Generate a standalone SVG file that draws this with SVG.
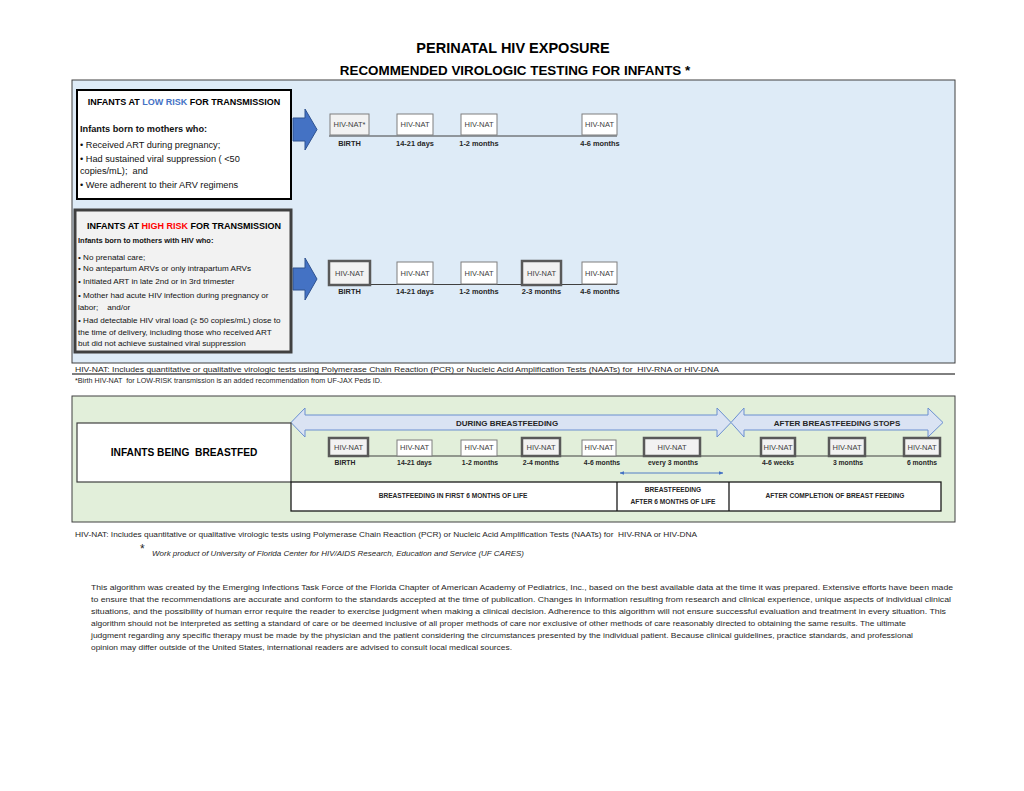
<svg xmlns="http://www.w3.org/2000/svg" width="1024" height="791" viewBox="0 0 1024 791">
<defs>
<style>
text{font-family:"Liberation Sans",Arial,sans-serif;fill:#1a1a1a}
.b{font-weight:bold}
.t1{font-size:14.5px;font-weight:bold;text-anchor:middle;fill:#000}
.t2{font-size:13.4px;font-weight:bold;text-anchor:middle;fill:#000}
.ht{font-size:9px;font-weight:bold;text-anchor:middle;fill:#000}
.lr{font-size:9.2px;fill:#111}
.hr{font-size:8.1px;fill:#111}
.bx{fill:#fff;stroke:#7f7f7f;stroke-width:1}
.bxg{fill:#f2f2f2;stroke:#7f7f7f;stroke-width:1}
.bxk{fill:#f2f2f2;stroke:#595959;stroke-width:2.5}
.nat{font-size:7.5px;text-anchor:middle;fill:#404040}
.lb{font-size:7.4px;font-weight:bold;text-anchor:middle;fill:#262626}
.tl{stroke:#404040;stroke-width:1;fill:none}
.blk{fill:#4472c4;stroke:#2f528f;stroke-width:1}
.dbl{fill:#dae3f3;stroke:#6a8fd0;stroke-width:1}
.ab{font-size:8px;font-weight:bold;text-anchor:middle;fill:#262626}
.bt{font-size:6.6px;font-weight:bold;text-anchor:middle;fill:#262626}
.fn{font-size:7.8px;fill:#262626}
.pg{font-size:7.6px;fill:#262626}
</style>
<marker id="ah" viewBox="0 0 10 10" refX="9" refY="5" markerWidth="5" markerHeight="5" orient="auto-start-reverse">
<path d="M0,1 L10,5 L0,9 Z" fill="#4472c4"/>
</marker>
</defs>
<rect width="1024" height="791" fill="#fff"/>

<g id="title">
<text class="t1" x="513" y="52.5">PERINATAL HIV EXPOSURE</text>
<text class="t2" x="515" y="75">RECOMMENDED VIROLOGIC TESTING FOR INFANTS *</text>
</g>

<g id="panel-risk">
<rect x="72" y="80" width="883" height="283" fill="#deebf7" stroke="#404040" stroke-width="1"/>
</g>

<g id="panel-breastfed">
<rect x="72" y="396" width="883" height="126" fill="#e2efda" stroke="#404040" stroke-width="1"/>
</g>

<g id="connectors">
<polygon class="blk" points="293,118 305,118 305,109 317,129.5 305,150 305,141 293,141"/>
<polygon class="blk" points="293,268 305,268 305,258 317,279 305,300 305,290 293,290"/>
<line class="tl" x1="329" y1="136" x2="617" y2="136"/>
<line class="tl" x1="329" y1="284.5" x2="617" y2="284.5"/>
<line x1="72" y1="374" x2="955" y2="374" stroke="#000" stroke-width="1"/>
<polygon class="dbl" points="291,422.5 305,408 305,415 717,415 717,408 731,422.5 717,437 717,430 305,430 305,437"/>
<polygon class="dbl" points="731,422.5 744,408 744,415 928,415 928,408 943,422.5 928,437 928,430 744,430 744,437"/>
<line class="tl" x1="329" y1="456" x2="941" y2="456"/>
<line x1="620" y1="473" x2="723" y2="473" stroke="#4472c4" stroke-width="0.9" marker-start="url(#ah)" marker-end="url(#ah)"/>
</g>

<g id="low-risk-box">
<rect x="77" y="90" width="214" height="109" fill="#fff" stroke="#000" stroke-width="2"/>
<text class="ht" x="184" y="105.3">INFANTS AT <tspan fill="#4472c4">LOW RISK</tspan> FOR TRANSMISSION</text>
<text class="lr b" x="80" y="132.2">Infants born to mothers who:</text>
<text class="lr" x="80" y="148.2">• Received ART during pregnancy;</text>
<text class="lr" x="80" y="162.2">• Had sustained viral suppression ( &lt;50</text>
<text class="lr" x="80" y="174.2">copies/mL);&#160; and</text>
<text class="lr" x="80" y="188.2">• Were adherent to their ARV regimens</text>
</g>

<g id="high-risk-box">
<rect x="75" y="210" width="216" height="142" fill="#f2f2f2" stroke="#404040" stroke-width="3"/>
<text class="ht" x="184" y="229.3">INFANTS AT <tspan fill="#ff0000">HIGH RISK</tspan> FOR TRANSMISSION</text>
<text class="hr b" x="78" y="242.7" style="font-size:7.5px">Infants born to mothers with HIV who:</text>
<text class="hr" x="78" y="259.7">• No prenatal care;</text>
<text class="hr" x="78" y="270.7">• No antepartum ARVs or only intrapartum ARVs</text>
<text class="hr" x="78" y="283.7">• Initiated ART in late 2nd or in 3rd trimester</text>
<text class="hr" x="78" y="297.7">• Mother had acute HIV infection during pregnancy or</text>
<text class="hr" x="78" y="309.7">labor;&#160;&#160;&#160; and/or</text>
<text class="hr" x="78" y="322.7">• Had detectable HIV viral load (≥ 50 copies/mL) close to</text>
<text class="hr" x="78" y="334.7">the time of delivery, including those who received ART</text>
<text class="hr" x="78" y="345.7">but did not achieve sustained viral suppression</text>
</g>

<g id="low-risk-timeline">
<rect class="bxg" x="330" y="114" width="39" height="21"/>
<text class="nat" x="349.5" y="127.2">HIV-NAT*</text>
<rect class="bx" x="397" y="114" width="36" height="21"/>
<text class="nat" x="415" y="127.2">HIV-NAT</text>
<rect class="bx" x="461" y="114" width="36" height="21"/>
<text class="nat" x="479" y="127.2">HIV-NAT</text>
<rect class="bx" x="582" y="114" width="35" height="21"/>
<text class="nat" x="599.5" y="127.2">HIV-NAT</text>
<text class="lb" x="349.5" y="146">BIRTH</text>
<text class="lb" x="415" y="146">14-21 days</text>
<text class="lb" x="479" y="146">1-2 months</text>
<text class="lb" x="600" y="146">4-6 months</text>
</g>

<g id="high-risk-timeline">
<rect class="bxk" x="329" y="261" width="41" height="24"/>
<text class="nat" x="349.5" y="276">HIV-NAT</text>
<rect class="bx" x="397" y="262" width="36" height="22"/>
<text class="nat" x="415" y="275.7">HIV-NAT</text>
<rect class="bx" x="461" y="262" width="36" height="22"/>
<text class="nat" x="479" y="275.7">HIV-NAT</text>
<rect class="bxk" x="522" y="261" width="39" height="24"/>
<text class="nat" x="541.5" y="276">HIV-NAT</text>
<rect class="bx" x="582" y="262" width="35" height="22"/>
<text class="nat" x="599.5" y="275.7">HIV-NAT</text>
<text class="lb" x="349.5" y="294">BIRTH</text>
<text class="lb" x="415" y="294">14-21 days</text>
<text class="lb" x="479" y="294">1-2 months</text>
<text class="lb" x="541.5" y="294">2-3 months</text>
<text class="lb" x="600" y="294">4-6 months</text>
</g>

<g id="footnotes-risk">
<text class="fn" x="75" y="371.8" textLength="644" lengthAdjust="spacingAndGlyphs">HIV-NAT: Includes quantitative or qualitative virologic tests using Polymerase Chain Reaction (PCR) or Nucleic Acid Amplification Tests (NAATs) for&#160; HIV-RNA or HIV-DNA</text>
<text class="fn" x="75" y="383" style="font-size:7.6px" textLength="307" lengthAdjust="spacingAndGlyphs">*Birth HIV-NAT&#160; for LOW-RISK transmission is an added recommendation from UF-JAX Peds ID.</text>
</g>

<g id="breastfed-box">
<rect x="77" y="423" width="214" height="59" fill="#fff" stroke="#404040" stroke-width="1.2"/>
<text class="b" x="184" y="456" style="font-size:10.2px;text-anchor:middle;fill:#000">INFANTS BEING&#160; BREASTFED</text>
</g>

<g id="breastfed-arrows-labels">
<text class="ab" x="507" y="425.8">DURING BREASTFEEDING</text>
<text class="ab" x="837" y="425.8">AFTER BREASTFEEDING STOPS</text>
</g>

<g id="breastfed-timeline">
<rect class="bxk" x="329" y="438" width="39" height="18"/>
<text class="nat" x="348.5" y="449.7">HIV-NAT</text>
<rect class="bx" x="397" y="440" width="35" height="16"/>
<text class="nat" x="414.5" y="449.7">HIV-NAT</text>
<rect class="bx" x="461" y="440" width="36" height="16"/>
<text class="nat" x="479" y="449.7">HIV-NAT</text>
<rect class="bxk" x="522" y="438" width="38" height="18"/>
<text class="nat" x="541" y="449.7">HIV-NAT</text>
<rect class="bx" x="582" y="440" width="34" height="16"/>
<text class="nat" x="599" y="449.7">HIV-NAT</text>
<rect class="bxk" x="644" y="438" width="56" height="18"/>
<text class="nat" x="672" y="449.7">HIV-NAT</text>
<rect class="bxk" x="761" y="438" width="34" height="18"/>
<text class="nat" x="778" y="449.7">HIV-NAT</text>
<rect class="bxk" x="829" y="438" width="36" height="18"/>
<text class="nat" x="847" y="449.7">HIV-NAT</text>
<rect class="bxk" x="904" y="438" width="36" height="18"/>
<text class="nat" x="922" y="449.7">HIV-NAT</text>
<text class="lb" x="345" y="465" style="font-size:6.8px">BIRTH</text>
<text class="lb" x="414.5" y="465" style="font-size:6.8px">14-21 days</text>
<text class="lb" x="480" y="465" style="font-size:6.8px">1-2 months</text>
<text class="lb" x="541" y="465" style="font-size:6.8px">2-4 months</text>
<text class="lb" x="602" y="465" style="font-size:6.8px">4-6 months</text>
<text class="lb" x="673" y="465" style="font-size:6.8px">every 3 months</text>
<text class="lb" x="778" y="465" style="font-size:6.8px">4-6 weeks</text>
<text class="lb" x="848" y="465" style="font-size:6.8px">3 months</text>
<text class="lb" x="922" y="465" style="font-size:6.8px">6 months</text>
</g>

<g id="breastfed-periods">
<rect x="291" y="482" width="650" height="29" fill="#fff" stroke="#1a1a1a" stroke-width="1.3"/>
<line x1="617" y1="482" x2="617" y2="511" stroke="#1a1a1a" stroke-width="1.3"/>
<line x1="729" y1="482" x2="729" y2="511" stroke="#1a1a1a" stroke-width="1.3"/>
<text class="bt" x="453" y="498.4">BREASTFEEDING IN FIRST 6 MONTHS OF LIFE</text>
<text class="bt" x="673" y="492.4">BREASTFEEDING</text>
<text class="bt" x="673" y="504.4">AFTER 6 MONTHS OF LIFE</text>
<text class="bt" x="835" y="498.4">AFTER COMPLETION OF BREAST FEEDING</text>
</g>

<g id="footnotes-breastfed">
<text class="fn" x="75" y="536.5" textLength="622" lengthAdjust="spacingAndGlyphs">HIV-NAT: Includes quantitative or qualitative virologic tests using Polymerase Chain Reaction (PCR) or Nucleic Acid Amplification Tests (NAATs) for&#160; HIV-RNA or HIV-DNA</text>
<text x="140" y="553" style="font-size:12px;fill:#262626">*</text>
<text class="fn" x="152" y="556" style="font-style:italic" textLength="372" lengthAdjust="spacingAndGlyphs">Work product of University of Florida Center for HIV/AIDS Research, Education and Service (UF CARES)</text>
</g>

<g id="disclaimer">
<text class="pg" x="91" y="589.6" textLength="862" lengthAdjust="spacingAndGlyphs">This algorithm was created by the Emerging Infections Task Force of the Florida Chapter of American Academy of Pediatrics, Inc., based on the best available data at the time it was prepared. Extensive efforts have been made</text>
<text class="pg" x="91" y="601.6" textLength="860" lengthAdjust="spacingAndGlyphs">to ensure that the recommendations are accurate and conform to the standards accepted at the time of publication. Changes in information resulting from research and clinical experience, unique aspects of individual clinical</text>
<text class="pg" x="91" y="613.6" textLength="855" lengthAdjust="spacingAndGlyphs">situations, and the possibility of human error require the reader to exercise judgment when making a clinical decision. Adherence to this algorithm will not ensure successful evaluation and treatment in every situation. This</text>
<text class="pg" x="91" y="625.6" textLength="815" lengthAdjust="spacingAndGlyphs">algorithm should not be interpreted as setting a standard of care or be deemed inclusive of all proper methods of care nor exclusive of other methods of care reasonably directed to obtaining the same results. The ultimate</text>
<text class="pg" x="91" y="637.6" textLength="822" lengthAdjust="spacingAndGlyphs">judgment regarding any specific therapy must be made by the physician and the patient considering the circumstances presented by the individual patient. Because clinical guidelines, practice standards, and professional</text>
<text class="pg" x="91" y="649.6" textLength="421" lengthAdjust="spacingAndGlyphs">opinion may differ outside of the United States, international readers are advised to consult local medical sources.</text>
</g>
</svg>
